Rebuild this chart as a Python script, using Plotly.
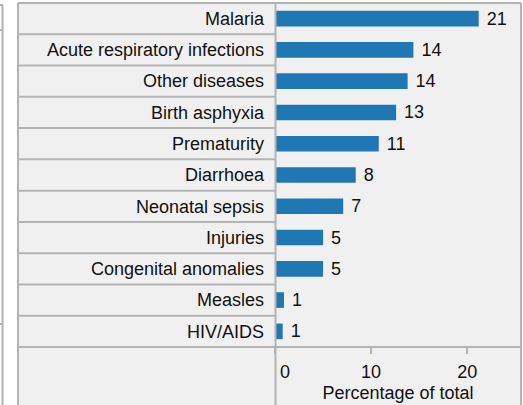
import plotly.graph_objects as go

categories = ["Malaria", "Acute respiratory infections", "Other diseases", "Birth asphyxia",
              "Prematurity", "Diarrhoea", "Neonatal sepsis", "Injuries",
              "Congenital anomalies", "Measles", "HIV/AIDS"]
values = [21.2, 14.4, 13.8, 12.6, 10.8, 8.4, 7.1, 5.0, 5.0, 0.94, 0.8]
value_labels = ["21", "14", "14", "13", "11", "8", "7", "5", "5", "1", "1"]
tick_vals = [0, 10, 20]
tick_text = ["\u00a0\u00a0\u00a0\u00a00", "10", "20"]
x_title = "Percentage of total"

W, H = 523, 405
L, R, T, B = 275, 2, 3, 58
pw = W - L - R
ph = H - T - B
FONT = "Liberation Sans, Arial, sans-serif"
LINE = "#b3b3b3"


def px(x):
    return (x - L) / pw


def py(y):
    return (H - B - y) / ph


fig = go.Figure(go.Bar(
    x=values, y=categories, orientation="h",
    marker=dict(color="#1f77b4", line=dict(width=0)),
    width=0.5,
    text=value_labels, texttemplate="\u00a0%{text}",
    textposition="outside", cliponaxis=False, constraintext="none",
    textfont=dict(size=18, color="#111111", family=FONT),
    hoverinfo="skip",
))

shapes = []
# table background
shapes.append(dict(type="rect", xref="paper", yref="paper", layer="below",
                   x0=px(18), x1=px(521), y0=py(3), y1=py(420),
                   fillcolor="#f0f0f0", line=dict(width=0)))
# outer border and column/axis separators
for (x0, y0, x1, y1) in [(18, 3, 521, 3), (18, 3, 18, 420), (521, 3, 521, 420),
                         (18, 347, 521, 347), (275.5, 3, 275.5, 420)]:
    shapes.append(dict(type="line", xref="paper", yref="paper",
                       x0=px(x0), x1=px(x1), y0=py(y0), y1=py(y1),
                       line=dict(color=LINE, width=2)))
# row separators in label column
for k in range(len(categories) - 1):
    shapes.append(dict(type="line", xref="paper", yref="y",
                       x0=px(18), x1=px(275.5), y0=k + 0.5, y1=k + 0.5,
                       line=dict(color=LINE, width=2)))
# neighbour panel edge on the far left
for (x0, y0, x1, y1) in [(0, 5, 3, 5), (2.5, 5, 2.5, 420), (0, 30, 2.5, 30), (0, 324, 2.5, 324)]:
    shapes.append(dict(type="line", xref="paper", yref="paper",
                       x0=px(x0), x1=px(x1), y0=py(y0), y1=py(y1),
                       line=dict(color=LINE, width=2)))

fig.update_layout(
    width=W, height=H,
    margin=dict(l=L, r=R, t=T, b=B, pad=0),
    paper_bgcolor="white", plot_bgcolor="rgba(0,0,0,0)",
    showlegend=False,
    shapes=shapes,
    font=dict(family=FONT, size=18, color="#111111"),
)
fig.update_xaxes(range=[0, 25.6], tickvals=tick_vals, ticktext=tick_text,
                 ticks="outside", ticklen=6, tickwidth=1.5, tickcolor=LINE,
                 ticklabelstandoff=2,
                 showgrid=False, zeroline=False, showline=False, automargin=False,
                 tickfont=dict(size=18, family=FONT, color="#111111"),
                 title=dict(text=x_title, standoff=5,
                            font=dict(size=18, family=FONT, color="#111111")))
fig.update_yaxes(range=[len(categories) - 0.5, -0.5], showgrid=False, zeroline=False,
                 showline=False, ticks="", ticklabelstandoff=10, automargin=False,
                 tickfont=dict(size=18, family=FONT, color="#111111"))

fig.write_html("out.html", config={"displayModeBar": False},
               post_script="document.body.style.margin='0';document.body.style.overflow='hidden';")
